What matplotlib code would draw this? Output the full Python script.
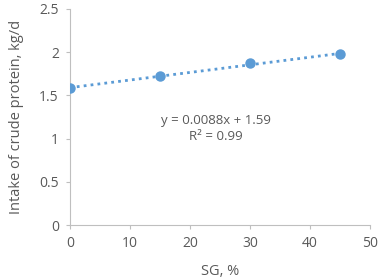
import numpy as np
import matplotlib
matplotlib.use("Agg")
import matplotlib.pyplot as plt

# data
sg = [0, 15, 30, 45]
intake = [1.59, 1.73, 1.87, 1.98]
slope = 0.0088
intercept = 1.59

plt.rcParams["font.family"] = ["Open Sans", "DejaVu Sans"]
grey = "#595959"
blue = "#5b9bd5"

fig = plt.figure(figsize=(3.8, 2.8), dpi=100)
ax = fig.add_axes([0.184, 0.196, 0.79, 0.772])

# trendline
xt = np.array([sg[0], sg[-1]])
ax.plot(xt, intercept + slope * xt, linestyle=(0, (1, 1.5)), color=blue, linewidth=2)
ax.plot(sg, intake, "o", color=blue, markersize=6.5, zorder=3)

ax.text(0.487, 0.486, "y = 0.0088x + 1.59", transform=ax.transAxes,
        ha="center", va="center", fontsize=9.5, color=grey)
ax.text(0.487, 0.41, "R² = 0.99", transform=ax.transAxes,
        ha="center", va="center", fontsize=9.5, color=grey)

ax.set_xlim(0, 50)
ax.set_ylim(0, 2.5)
ax.set_xticks([0, 10, 20, 30, 40, 50])
ax.set_yticks([0, 0.5, 1, 1.5, 2, 2.5])
ax.set_yticklabels(["0", "0.5", "1", "1.5", "2", "2.5"])

for s in ["top", "right"]:
    ax.spines[s].set_visible(False)
for s in ["left", "bottom"]:
    ax.spines[s].set_color("#bfbfbf")
    ax.spines[s].set_linewidth(0.8)
ax.tick_params(direction="out", length=3, color="#bfbfbf", labelcolor=grey,
               labelsize=10, width=0.8, pad=5)

ax.set_xlabel("SG, %", fontsize=10.5, color=grey, labelpad=9)
ax.set_ylabel("Intake of crude protein, kg/d", fontsize=10.5, color=grey, labelpad=11)

fig.savefig("out.png", dpi=100)
